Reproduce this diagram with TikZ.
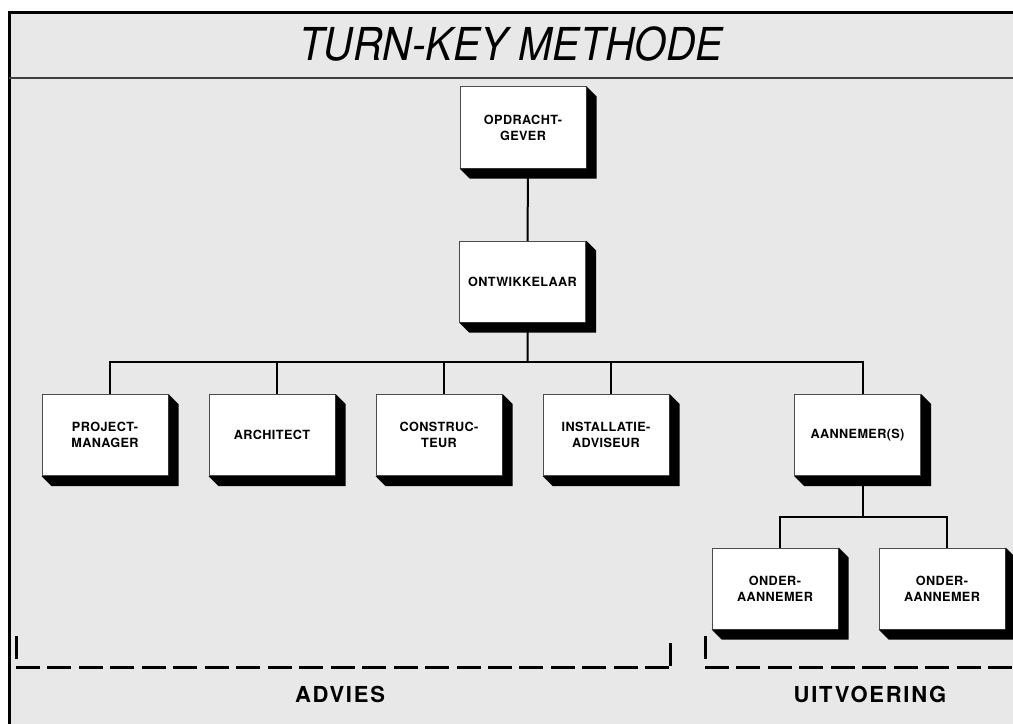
\documentclass[tikz,border=0pt]{standalone}
\usepackage{fontspec}
\setmainfont{TeX Gyre Heros}
\newfontfamily\titelfont[FakeStretch=0.9]{TeX Gyre Heros}
\newfontfamily\blokfont[LetterSpace=3]{TeX Gyre Heros}
\newfontfamily\fasefont[LetterSpace=8]{TeX Gyre Heros}
\usetikzlibrary{backgrounds}
\definecolor{achtergrond}{gray}{0.91}
\tikzset{
  blok/.style={draw=black!70,fill=white,line width=0.75pt,minimum width=94.5pt,minimum height=60.75pt,
    inner sep=0pt,align=center,font=\blokfont\bfseries\fontsize{9.5}{12}\selectfont},
  lijn/.style={line width=1.5pt},
  streep/.style={line width=2.25pt},
  fase/.style={font=\fasefont\bfseries\fontsize{16.5}{18}\selectfont}
}
\newcommand\schaduw[1]{\fill (#1.north east) -- ++(10,10) -- ([shift={(10,10)}]#1.south east)
  -- ([shift={(10,10)}]#1.south west) -- (#1.south west) -- (#1.south east) -- cycle;}
\begin{document}
\begin{tikzpicture}[x=0.75pt,y=-0.75pt]
  \useasboundingbox (0,0) rectangle (1013,724);
  \path (511,43.5) node[font=\titelfont\itshape\fontsize{34}{40}\selectfont](titel){TURN-KEY METHODE};
  \path (523,127.5) node[blok](opdrachtgever){OPDRACHT-\\GEVER}
        (522.5,281.5) node[blok](ontwikkelaar){ONTWIKKELAAR};
  \path (105,435) node[blok](projectmanager){PROJECT-\\MANAGER}
        (272,435) node[blok](architect){ARCHITECT}
        (439,435) node[blok](constructeur){CONSTRUC-\\TEUR}
        (606,435) node[blok](installatie){INSTALLATIE-\\ADVISEUR}
        (857.5,435) node[blok](aannemer){AANNEMER(S)};
  \path (775,588.5) node[blok](onder1){ONDER-\\AANNEMER}
        (942,588.5) node[blok](onder2){ONDER-\\AANNEMER};
  \foreach \n in {opdrachtgever,ontwikkelaar,projectmanager,architect,constructeur,installatie,aannemer,onder1,onder2}
    {\schaduw{\n}}
  % fasen
  \path (340,694) node[fase](advies){ADVIES}
        (870,694) node[fase](uitvoering){UITVOERING};
  \draw[streep] (16,636) -- (16,659) (670,643) -- (670,666) (705,636) -- (705,659);
  \draw[streep,dash pattern=on 18pt off 5.6pt] (16,667) -- (670,667) (705,667) -- (1013,667);
  \begin{scope}[on background layer]
    \fill[achtergrond] (9,12.5) rectangle (1013,724);
    \draw[line width=2.25pt] (9,724) -- (9,12.5) -- (1013,12.5);
    \draw[black!75,line width=1.1pt] (9,78) -- (1013,78);
    \coordinate (bus1) at ([shift={(5,80.5)}]ontwikkelaar.center);
    \coordinate (bus2) at ([shift={(5,82)}]aannemer.center);
    \draw[lijn] ([xshift=3.75pt]opdrachtgever.center) -- ([xshift=3.75pt]ontwikkelaar.center) -- (bus1);
    \foreach \n in {projectmanager,architect,constructeur,installatie,aannemer}
      \draw[lijn] (bus1) -| ([xshift=3.75pt]\n.center);
    \draw[lijn] ([xshift=3.75pt]aannemer.center) -- (bus2);
    \foreach \n in {onder1,onder2}
      \draw[lijn] (bus2) -| ([xshift=3.75pt]\n.center);
  \end{scope}
\end{tikzpicture}
\end{document}
